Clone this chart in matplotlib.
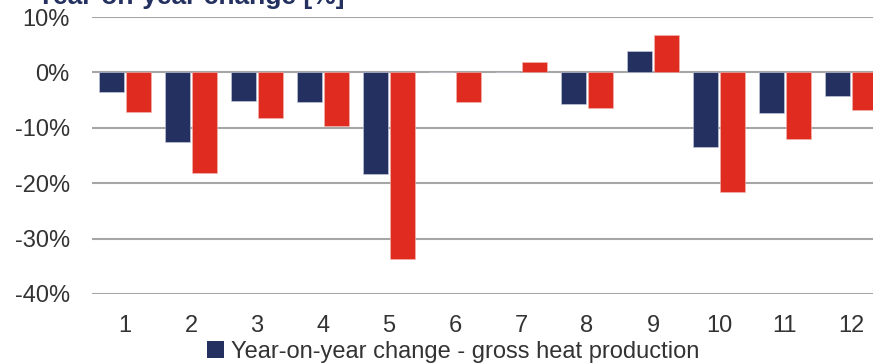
import matplotlib
matplotlib.use("Agg")
import matplotlib.pyplot as plt
from matplotlib.patches import Patch
import numpy as np

months = ["1", "2", "3", "4", "5", "6", "7", "8", "9", "10", "11", "12"]
gross_change = [-3.6, -12.5, -5.2, -5.35, -18.3, 0.0, 0.0, -5.65, 3.8, -13.5, -7.3, -4.3]
net_change = [-7.1, -18.1, -8.3, -9.6, -33.7, -5.4, 1.8, -6.4, 6.7, -21.5, -12.0, -6.7]
y_ticks = [-40, -30, -20, -10, 0, 10]
legend_label = "Year-on-year change - gross heat production"
title_text = "Year-on-year change [%]"

NAVY = "#233060"
RED = "#e02b20"
TEXT = "#333333"
GRID = "#a6a6a6"

plt.rcParams["font.family"] = ["Liberation Sans", "DejaVu Sans"]

W, H = 873, 364
fig = plt.figure(figsize=(W / 100, H / 100), dpi=100)
# plot area runs past the right edge of the canvas
left, right = 92, 92 + 66 * 12
top, bottom = 17, 294
ax = fig.add_axes([left / W, (H - bottom) / H, (right - left) / W, (bottom - top) / H])

x = np.arange(len(months))
bw = 0.38
off = 0.209
ax.bar(x - off, gross_change, width=bw, color=NAVY, edgecolor="#c8cde0", linewidth=0.4, zorder=3)
ax.bar(x + off, net_change, width=bw, color=RED, edgecolor="#f2b8b4", linewidth=0.4, zorder=3)

ax.set_xlim(-0.5, len(months) - 0.5)
ax.set_ylim(-40, 10)
ax.set_yticks(y_ticks)
ax.set_yticklabels([f"{v}%" for v in y_ticks])
ax.set_xticks(x)
ax.set_xticklabels(months)
ax.yaxis.grid(True, color=GRID, linewidth=1.5, zorder=1)
ax.set_axisbelow(True)
for s in ax.spines.values():
    s.set_visible(False)
ax.tick_params(axis="both", length=0, labelsize=17, labelcolor=TEXT)
ax.tick_params(axis="x", pad=15)
ax.tick_params(axis="y", pad=16)

fig.text(37 / W, (H - 4) / H, title_text, fontsize=19, fontweight="bold", color=NAVY,
         ha="left", va="baseline")

fig.legend(handles=[Patch(facecolor=NAVY, edgecolor="none")], labels=[legend_label],
           loc="center left", bbox_to_anchor=(207 / W, (H - 352) / H), frameon=False,
           fontsize=17, labelcolor=TEXT, handlelength=0.7, handleheight=0.7,
           handletextpad=0.3, borderpad=0, borderaxespad=0)

fig.savefig("out.png", dpi=100)
